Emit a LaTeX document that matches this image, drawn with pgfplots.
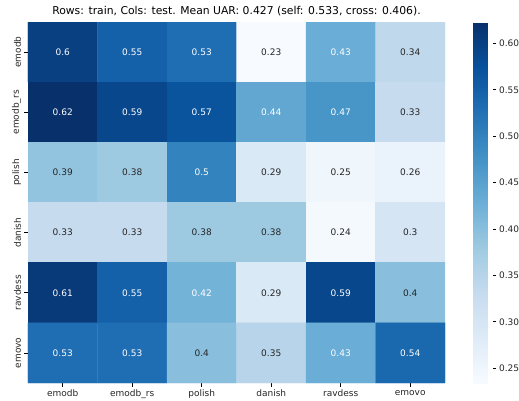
\documentclass[border=0pt]{standalone}
\usepackage{pgfplots}
\pgfplotsset{compat=1.18}
\usepackage{fontspec}
\setmainfont{DejaVu Sans}
\definecolor{darktext}{RGB}{38,38,38}
\pgfplotsset{
  colormap={Blues}{
    rgb255=(247,251,255) rgb255=(222,235,247) rgb255=(198,219,239)
    rgb255=(158,202,225) rgb255=(107,174,214) rgb255=(66,146,198)
    rgb255=(33,113,181) rgb255=(8,81,156) rgb255=(8,48,107)
  }
}
\begin{document}
\begin{tikzpicture}
\useasboundingbox (0,0) rectangle (519pt,400pt);
\begin{axis}[
  at={(28pt,17pt)}, anchor=south west,
  scale only axis, width=417pt, height=361pt,
  xmin=-0.5, xmax=5.5, ymin=-0.5, ymax=5.5,
  y dir=reverse,
  axis x line*=bottom, axis y line*=left,
  axis line style={draw=none},
  tick align=outside, major tick length=3.5pt,
  tick style={black, line width=0.6pt},
  xtick={0,...,5}, ytick={0,...,5},
  xticklabels={emodb,emodb\_rs,polish,danish,ravdess,emovo},
  yticklabels={emodb,emodb\_rs,polish,danish,ravdess,emovo},
  ticklabel style={font=\fontsize{9}{10}\selectfont, text=darktext},
  yticklabel style={rotate=90, anchor=south},
  title={Rows: train, Cols: test. Mean UAR: 0.427 (self: 0.533, cross: 0.406).},
  title style={font=\fontsize{10.8}{12}\selectfont, yshift=-3.5pt},
  colormap name=Blues,
  point meta min=0.234, point meta max=0.623,
  colorbar,
  colorbar style={
    at={(parent axis.north east)}, anchor=north west, xshift=20pt,
    width=19pt,
    axis line style={draw=none},
    ytick={0.25,0.30,0.35,0.40,0.45,0.50,0.55,0.60},
    yticklabels={0.25,0.30,0.35,0.40,0.45,0.50,0.55,0.60},
    ytick pos=right,
    tick align=outside, major tick length=3.5pt,
    tick style={black, line width=0.6pt},
    yticklabel style={font=\fontsize{9}{10}\selectfont, text=darktext, xshift=-0.5pt},
  },
  nodes near coords style={anchor=center, font=\fontsize{9}{10}\selectfont},
]
\addplot[matrix plot*, mesh/cols=6, point meta=explicit] table[meta=z] {
x y z
0 0 0.60
1 0 0.55
2 0 0.53
3 0 0.234
4 0 0.43
5 0 0.34
0 1 0.623
1 1 0.59
2 1 0.57
3 1 0.44
4 1 0.47
5 1 0.33
0 2 0.39
1 2 0.38
2 2 0.50
3 2 0.29
4 2 0.25
5 2 0.26
0 3 0.33
1 3 0.33
2 3 0.38
3 3 0.38
4 3 0.24
5 3 0.30
0 4 0.61
1 4 0.55
2 4 0.42
3 4 0.29
4 4 0.59
5 4 0.40
0 5 0.53
1 5 0.53
2 5 0.40
3 5 0.35
4 5 0.43
5 5 0.54
};
\addplot[only marks, mark=none, nodes near coords, point meta=explicit symbolic,
  nodes near coords style={text=white}] table[meta=l] {
x y l
0 0 0.6
1 0 0.55
2 0 0.53
4 0 0.43
0 1 0.62
1 1 0.59
2 1 0.57
3 1 0.44
4 1 0.47
2 2 0.5
0 4 0.61
1 4 0.55
2 4 0.42
4 4 0.59
0 5 0.53
1 5 0.53
4 5 0.43
5 5 0.54
};
\addplot[only marks, mark=none, nodes near coords, point meta=explicit symbolic,
  nodes near coords style={text=darktext}] table[meta=l] {
x y l
3 0 0.23
5 0 0.34
5 1 0.33
0 2 0.39
1 2 0.38
3 2 0.29
4 2 0.25
5 2 0.26
0 3 0.33
1 3 0.33
2 3 0.38
3 3 0.38
4 3 0.24
5 3 0.3
3 4 0.29
5 4 0.4
2 5 0.4
3 5 0.35
};
\end{axis}
\end{tikzpicture}
\end{document}
